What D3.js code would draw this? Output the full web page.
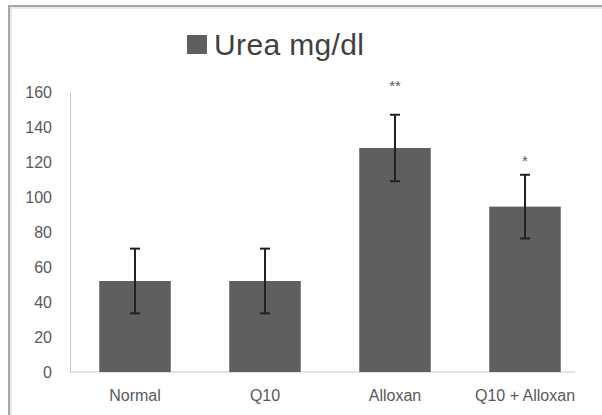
<!DOCTYPE html>
<html><head><meta charset="utf-8">
<script src="https://cdn.jsdelivr.net/npm/d3@7"></script>
<style>body{margin:0;background:#fff;overflow:hidden}svg{display:block}</style>
</head><body>
<svg id="c" width="602" height="415"></svg>
<script>
const categories = ["Normal", "Q10", "Alloxan", "Q10 + Alloxan"];
const values = [52, 52, 128, 94.5];
const errors = [18.5, 18.5, 19, 18.2];
const stars = ["", "", "**", "*"];
const yTicks = [0, 20, 40, 60, 80, 100, 120, 140, 160];
const seriesName = "Urea mg/dl";

const svg = d3.select("#c");
const font = "'Liberation Sans', Arial, sans-serif";
// frame (top and left edges only visible)
svg.append("path").attr("d","M9,415V6H602").attr("fill","none").attr("stroke","#a6a6a6").attr("stroke-width",2);
svg.append("path").attr("d","M11,415V8H602").attr("fill","none").attr("stroke","#e8e8e8").attr("stroke-width",2);

const x = d3.scaleBand().domain(categories).range([70, 590]).paddingInner(0.45).paddingOuter(0.225);
const y = d3.scaleLinear().domain([0, 160]).range([372, 92]);

// y axis
const ya = svg.append("g").attr("transform","translate(70,0)")
  .call(d3.axisLeft(y).tickValues(yTicks).tickSize(0).tickPadding(18));
ya.select(".domain").attr("stroke","#c8c8c8");
ya.selectAll("text").attr("font-family",font).attr("font-size",16).attr("fill","#595959");

// x axis
const xa = svg.append("g").attr("transform","translate(0,372)")
  .call(d3.axisBottom(x).tickSize(0).tickPadding(18));
xa.select(".domain").attr("stroke","#c8c8c8").attr("d","M70,0H575");
xa.selectAll("text").attr("font-family",font).attr("font-size",16).attr("fill","#595959");

// bars
svg.append("g").selectAll("rect").data(values).join("rect")
  .attr("x",(d,i)=>x(categories[i])).attr("width",x.bandwidth())
  .attr("y",d=>y(d)).attr("height",d=>y(0)-y(d)).attr("fill","#5f5f5f");

// error bars
const eb = svg.append("g").attr("stroke","#222").attr("stroke-width",2);
values.forEach((v,i)=>{
  const cx = x(categories[i]) + x.bandwidth()/2;
  eb.append("line").attr("x1",cx).attr("x2",cx).attr("y1",y(v+errors[i])).attr("y2",y(v-errors[i]));
  eb.append("line").attr("x1",cx-5).attr("x2",cx+5).attr("y1",y(v+errors[i])).attr("y2",y(v+errors[i]));
  eb.append("line").attr("x1",cx-5).attr("x2",cx+5).attr("y1",y(v-errors[i])).attr("y2",y(v-errors[i]));
});

// stars
svg.append("g").selectAll("text").data(stars).join("text")
  .attr("x",(d,i)=>x(categories[i]) + x.bandwidth()/2)
  .attr("y",(d,i)=>y(values[i]+errors[i]) - (d.length > 1 ? 24 : 9))
  .attr("text-anchor","middle").attr("font-family",font).attr("font-size",15).attr("fill","#595959")
  .text(d=>d);

// title legend
svg.append("rect").attr("x",187).attr("y",35).attr("width",20).attr("height",19).attr("fill","#5f5f5f");
svg.append("text").attr("x",214).attr("y",55).attr("font-family",font).attr("font-size",30)
  .attr("fill","#404040").attr("textLength",150).text(seriesName);
</script>
</body></html>
